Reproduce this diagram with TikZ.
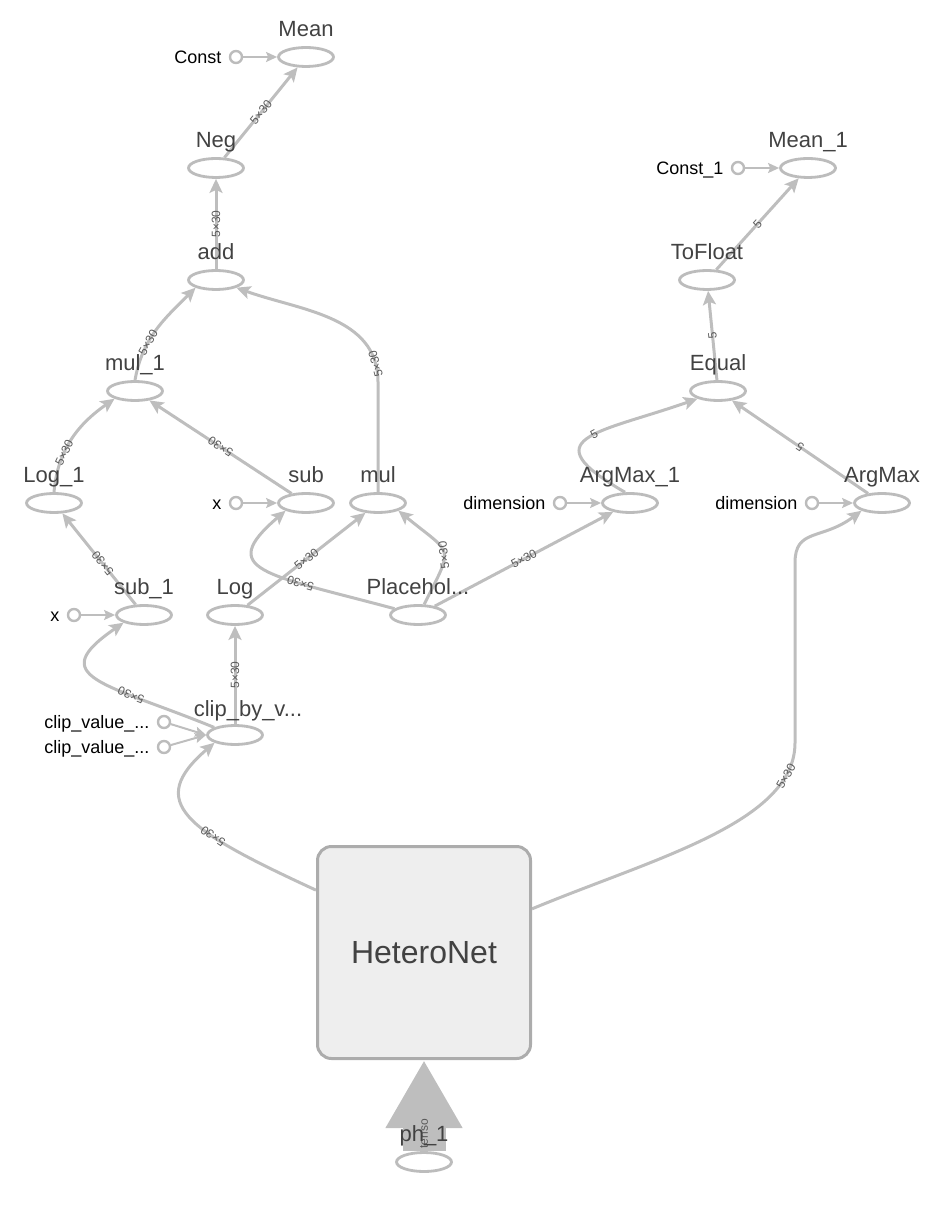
\documentclass[tikz,border=0pt]{standalone}
\usepackage{fontspec}
\setmainfont{Liberation Sans}
\usetikzlibrary{shapes.geometric,arrows.meta,positioning,backgrounds}
\definecolor{edgegray}{RGB}{190,190,190}
\definecolor{nodegray}{RGB}{188,188,188}
\definecolor{boxgray}{RGB}{172,172,172}
\definecolor{boxfill}{RGB}{238,238,238}
\definecolor{lblgray}{RGB}{66,66,66}
\definecolor{tipgray}{RGB}{90,90,90}

\begin{document}
\begin{tikzpicture}[x=0.5pt,y=0.5pt,
  opnode/.style={ellipse,draw=nodegray,fill=white,line width=1.4pt,
    minimum width=27.5pt,minimum height=9.5pt,inner sep=0pt},
  oplbl/.style={font=\fontsize{11}{13}\selectfont,text=lblgray,
    inner sep=0pt,text height=7.9pt,text depth=0pt},
  cnode/.style={circle,draw=nodegray,fill=white,line width=1.2pt,
    minimum size=6pt,inner sep=0pt},
  clbl/.style={font=\fontsize{9}{11}\selectfont,inner sep=0pt,
    text height=6.4pt,text depth=0pt},
  edge/.style={draw=edgegray,line width=1.5pt,
    -{Stealth[length=7pt,width=6.5pt,inset=1.5pt]}},
  cedge/.style={draw=edgegray,line width=1pt,
    -{Stealth[length=5.5pt,width=5pt,inset=1pt]}},
  elbl/.style={font=\fontsize{6}{7}\selectfont,text=tipgray,
    inner sep=0.3pt,sloped,allow upside down}
]

% ---- layout parameters ----
\def\lblup{28.5}         % label height above an op ellipse

% op node: name, x, y (pixels from top), label
\newcommand{\opnode}[4]{%
  \node[opnode] (#1) at (#2,-#3) {};
  \node[oplbl] (#1L) at (#2,-#3+\lblup) {#4};}
% constant input: name, x, y, label
\newcommand{\constnode}[4]{%
  \node[cnode] (#1) at (#2,-#3) {};
  \node[clbl,left=3.5pt of #1] (#1L) {#4};}

\useasboundingbox (0,0) rectangle (938,-1218);

% ---- ops ----
\opnode{mean}{306}{57}{Mean}
\opnode{neg}{216}{168}{Neg}
\opnode{add}{216}{280}{add}
\opnode{mulone}{135}{391}{mul\_1}
\opnode{logone}{54}{503}{Log\_1}
\opnode{sub}{306}{503}{sub}
\opnode{mul}{378}{503}{mul}
\opnode{subone}{144}{615}{sub\_1}
\opnode{log}{235}{615}{Log}
\opnode{placeh}{418}{615}{Placehol...}
\node[opnode] (clip) at (235,-735) {};
\node[oplbl] (clipL) at (248,-709) {clip\_by\_v...};
\opnode{meanone}{808}{168}{Mean\_1}
\opnode{tofloat}{707}{280}{ToFloat}
\opnode{equal}{718}{391}{Equal}
\opnode{argmaxone}{630}{503}{ArgMax\_1}
\opnode{argmax}{882}{503}{ArgMax}

% ---- constants ----
\constnode{const}{236}{57}{Const}
\constnode{constone}{738}{168}{Const\_1}
\constnode{xa}{236}{503}{x}
\constnode{xb}{74}{615}{x}
\constnode{dima}{560}{503}{dimension}
\constnode{dimb}{812}{503}{dimension}
\constnode{cva}{164}{722}{clip\_value\_...}
\constnode{cvb}{164}{747}{clip\_value\_...}

% ---- HeteroNet block and its input ----
\node[draw=boxgray,fill=boxfill,line width=1.5pt,rounded corners=7pt,
  minimum width=106.5pt,minimum height=106pt,
  font=\fontsize{16}{19}\selectfont,text=lblgray] (hetero) at (424,-952.5) {HeteroNet};
\node[opnode] (phone) at (424,-1162) {};
\node[oplbl] (phoneL) at (424,-1162+\lblup) {ph\_1};

\begin{pgfonlayer}{background}
\draw[draw=edgegray,line width=21.5pt,-{Triangle[length=34pt,width=36pt]}]
  (phone.north) -- node[elbl,pos=.19] {tenso} (hetero.south);

% ---- loss branch ----
\draw[cedge] (const) -- (mean);
\draw[edge] (neg) -- node[elbl] {5×30} (mean);
\draw[edge] (add) -- node[elbl] {5×30} (neg);
\draw[edge] (mulone.north) to[out=80,in=-135] node[elbl,pos=.35] {5×30} (add.south west);
\draw[edge] (logone.north) to[out=85,in=-145] node[elbl,pos=.35] {5×30} (mulone.south west);
\draw[edge] (sub) -- node[elbl] {5×30} (mulone);
\draw[edge] (mul.north) -- ++(0,110) to[out=90,in=-20] node[elbl,pos=.1] {5×30} (add.south east);
\draw[edge] (subone) -- node[elbl,pos=.45] {5×30} (logone);
\draw[edge] (log) -- node[elbl] {5×30} (mul);
\draw[edge] (placeh.165) .. controls +(-130,35) and +(-70,-60) .. (sub.south west)
  node[elbl,pos=.3] {5×30};
\draw[edge] (placeh.60) .. controls +(30,60) and +(55,-45) .. (mul.south east)
  node[elbl,pos=.45] {5×30};
\draw[cedge] (xa) -- (sub);
\draw[cedge] (xb) -- (subone);

% clipping
\draw[edge] (clip) -- node[elbl] {5×30} (log);
\draw[edge] (clip.160) .. controls +(-110,45) and +(-80,-55) .. (subone.south west)
  node[elbl,pos=.3] {5×30};
\draw[cedge] (cva) -- (clip.west);
\draw[cedge] (cvb) -- (clip.west);
\draw[edge] (hetero.150) .. controls +(-130,60) and +(-70,-60) .. (clip.south west)
  node[elbl,pos=.35] {5×30};

% ---- accuracy branch ----
\draw[edge] (placeh) -- node[elbl] {5×30} (argmaxone);
\draw[edge] (hetero.22) .. controls +(120,50) and +(0,-80) .. ++(263,166)
  node[elbl,pos=.85] {5×30}
  -- ++(0,180) .. controls +(0,35) and +(-40,-30) .. (argmax.south west);
\draw[cedge] (dima) -- (argmaxone);
\draw[cedge] (dimb) -- (argmax);
\draw[edge] (argmaxone.115) .. controls +(-95,55) and +(-100,-35) .. (equal.south west)
  node[elbl,pos=.55] {5};
\draw[edge] (argmax) -- node[elbl] {5} (equal);
\draw[edge] (equal) -- node[elbl] {5} (tofloat);
\draw[edge] (tofloat) -- node[elbl] {5} (meanone);
\draw[cedge] (constone) -- (meanone);
\end{pgfonlayer}

\end{tikzpicture}
\end{document}
